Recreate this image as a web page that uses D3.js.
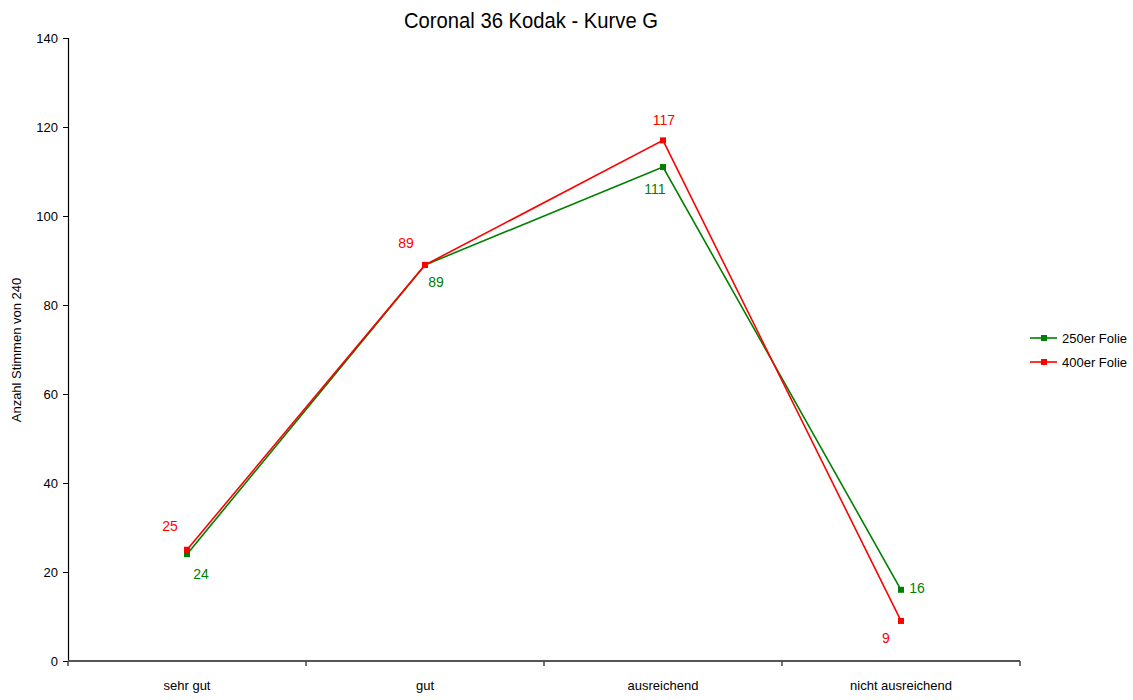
<!DOCTYPE html>
<html>
<head>
<meta charset="utf-8">
<script src="https://cdn.jsdelivr.net/npm/d3@7"></script>
<style>
  html, body { margin: 0; padding: 0; background: #fff; }
  svg { display: block; }
  text { font-family: "Liberation Sans Narrow", "Arial Narrow", "Liberation Sans", Arial, sans-serif; }
</style>
</head>
<body>
<svg id="chart" width="1133" height="700"></svg>
<script>
// Votes out of 240 per rating, for two film types
const categories = ["sehr gut", "gut", "ausreichend", "nicht ausreichend"];
const seriesNames = ["250er Folie", "400er Folie"];
const values250 = [24, 89, 111, 16];
const values400 = [25, 89, 117, 9];
const yTicks = [0, 20, 40, 60, 80, 100, 120, 140];
const colors = ["#008000", "#ff0000"];

// label offsets (dx, dy) per point so the value labels do not collide
const labelOffsets250 = [[14, 25], [11, 22], [-8, 27], [16, 3]];
const labelOffsets400 = [[-17, -19], [-19, -17], [1, -15], [-15, 22]];

const svg = d3.select("#chart");
const margin = { left: 68, right: 113, top: 38, bottom: 39 };
const W = 1133, H = 700;

const x = d3.scaleBand().domain(categories).range([margin.left, W - margin.right]);
const y = d3.scaleLinear().domain([0, 140]).range([H - margin.bottom, margin.top]);

// title, slightly condensed
svg.append("text")
  .attr("transform", "translate(531,28) scale(0.92,1)")
  .attr("text-anchor", "middle")
  .attr("font-size", 22)
  .attr("fill", "#000")
  .text("Coronal 36 Kodak - Kurve G");

// y axis
const yAxis = svg.append("g")
  .attr("transform", `translate(${margin.left},0)`)
  .call(d3.axisLeft(y).tickValues(yTicks).tickSize(5).tickPadding(5));
yAxis.select(".domain").attr("stroke", "#000").attr("stroke-width", 1.2);
yAxis.selectAll(".tick line").attr("stroke", "#000");
yAxis.selectAll(".tick text").attr("font-size", 13).attr("fill", "#000")
  .style("font-family", '"Liberation Sans Narrow", "Arial Narrow", Arial, sans-serif');

// x axis with ticks at category boundaries
const boundaries = categories.map(c => x(c)).concat([x.range()[1]]);
const xg = svg.append("g").attr("transform", `translate(0,${y(0)})`);
xg.append("line")
  .attr("x1", margin.left).attr("x2", W - margin.right)
  .attr("stroke", "#555").attr("stroke-width", 2);
xg.selectAll("line.b").data(boundaries).join("line")
  .attr("class", "b")
  .attr("x1", d => d).attr("x2", d => d)
  .attr("y1", 0).attr("y2", 5)
  .attr("stroke", "#444").attr("stroke-width", 1.5);
xg.selectAll("text").data(categories).join("text")
  .attr("x", d => x(d) + x.bandwidth() / 2)
  .attr("y", 29)
  .attr("text-anchor", "middle")
  .attr("font-size", 13)
  .attr("fill", "#000")
  .text(d => d);

// y axis title
svg.append("text")
  .attr("transform", `translate(21,350) rotate(-90)`)
  .attr("text-anchor", "middle")
  .attr("font-size", 13)
  .attr("fill", "#000")
  .text("Anzahl Stimmen von 240");

const series = [
  { name: seriesNames[0], values: values250, color: colors[0], offsets: labelOffsets250 },
  { name: seriesNames[1], values: values400, color: colors[1], offsets: labelOffsets400 }
];

const cx = c => x(c) + x.bandwidth() / 2;
const line = d3.line().x(d => cx(d.cat)).y(d => y(d.v));

series.forEach(s => {
  const pts = categories.map((c, i) => ({ cat: c, v: s.values[i], off: s.offsets[i] }));
  svg.append("path")
    .datum(pts)
    .attr("d", line)
    .attr("fill", "none")
    .attr("stroke", s.color)
    .attr("stroke-width", 1.6);
  svg.selectAll(null).data(pts).join("rect")
    .attr("x", d => cx(d.cat) - 3)
    .attr("y", d => y(d.v) - 3)
    .attr("width", 6).attr("height", 6)
    .attr("fill", s.color);
  svg.selectAll(null).data(pts).join("text")
    .attr("x", d => cx(d.cat) + d.off[0])
    .attr("y", d => y(d.v) + d.off[1])
    .attr("text-anchor", "middle")
    .attr("font-size", 14)
    .attr("fill", s.color)
    .text(d => d.v);
});

// legend
const legend = svg.append("g").attr("transform", "translate(1030,338)");
series.forEach((s, i) => {
  const g = legend.append("g").attr("transform", `translate(0,${i * 24})`);
  g.append("line").attr("x1", 0).attr("x2", 27).attr("stroke", s.color).attr("stroke-width", 1.6);
  g.append("rect").attr("x", 11).attr("y", -3).attr("width", 6).attr("height", 6).attr("fill", s.color);
  g.append("text").attr("x", 32).attr("y", 5).attr("font-size", 13).attr("fill", "#000").text(s.name);
});
</script>
</body>
</html>
